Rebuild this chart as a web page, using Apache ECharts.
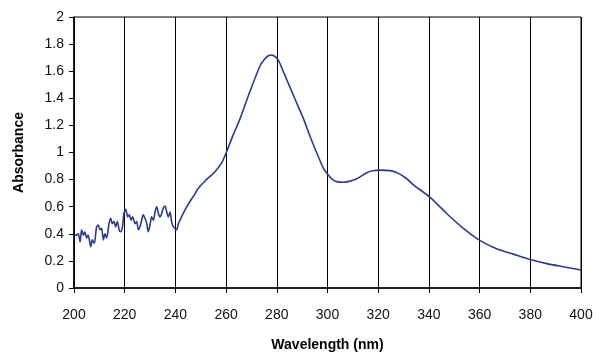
<!DOCTYPE html>
<html>
<head>
<meta charset="utf-8">
<script src="https://cdn.jsdelivr.net/npm/echarts@6/dist/echarts.min.js"></script>
<style>
  html, body { margin: 0; padding: 0; background: #fff; }
  #chart { width: 596px; height: 352px; }
</style>
</head>
<body>
<div id="chart"></div>
<script>
// wavelength (nm) and absorbance
const wavelengths = [
  200, 200.8, 201.7, 202.4, 203.0, 203.7, 204.3, 205.0, 205.6, 206.6, 207.2, 208.0,
  208.9, 209.6, 210.3, 210.9, 211.6, 212.2, 212.9, 213.8, 214.5, 215.1, 215.8, 216.4,
  217.1, 217.8, 218.4, 219.1, 219.7, 220.4, 221.2, 221.8, 222.5, 223.1, 224.1, 224.7,
  225.4, 226.0, 226.7, 227.3, 228.0, 228.7, 229.3, 230.0, 230.6, 231.3, 232.0, 232.6,
  233.3, 233.9, 234.6, 235.2, 235.9, 236.6, 237.2, 237.9, 238.5, 239.2, 239.8, 240.5,
  241.1, 241.8, 243.1, 244.5, 245.8, 247.7, 249.0, 251.7, 255.6, 258.3, 260.2, 262.8,
  264.2, 265.5, 269.4, 273.4, 275.0, 276.5, 277.6, 279.0, 280.5, 282.6, 286.5, 290.5,
  293.1, 295.7, 298.4, 300.3, 302, 303.6, 306, 308.2, 312, 315.5, 318, 320.7, 324.7,
  328, 331, 334, 340.4, 347, 353.6, 360.2, 366.7, 373.3, 380, 386.5, 393, 400
];
const absorbance = [
  0.39, 0.39, 0.40, 0.34, 0.43, 0.39, 0.415, 0.37, 0.39, 0.305, 0.355, 0.33,
  0.45, 0.465, 0.43, 0.44, 0.355, 0.40, 0.37, 0.475, 0.515, 0.475, 0.49, 0.45,
  0.49, 0.43, 0.415, 0.45, 0.55, 0.58, 0.525, 0.54, 0.50, 0.525, 0.475, 0.49,
  0.43, 0.45, 0.50, 0.54, 0.515, 0.475, 0.415, 0.465, 0.525, 0.50, 0.565, 0.60,
  0.55, 0.525, 0.55, 0.59, 0.605, 0.56, 0.525, 0.56, 0.49, 0.45, 0.44, 0.43,
  0.47, 0.50, 0.55, 0.60, 0.64, 0.695, 0.735, 0.79, 0.858, 0.925, 1.006, 1.13,
  1.19, 1.25, 1.45, 1.64, 1.685, 1.712, 1.72, 1.712, 1.685, 1.596, 1.424, 1.25,
  1.12, 1.0, 0.883, 0.834, 0.80, 0.785, 0.78, 0.785, 0.81, 0.851, 0.865, 0.87, 0.866,
  0.846, 0.81, 0.76, 0.67, 0.55, 0.44, 0.35, 0.29, 0.25, 0.21, 0.18, 0.157, 0.133
];

const X_TICKS = { min: 200, max: 400, step: 20 };
const Y_TICKS = { min: 0, max: 2, step: 0.2 };

const labelFont = {
  color: '#111',
  fontFamily: '"Liberation Sans Narrow", "Arial Narrow", "Liberation Sans", Arial, sans-serif',
  fontSize: 14,
};
const nameFont = {
  color: '#000',
  fontFamily: '"Liberation Sans Narrow", "Arial Narrow", "Liberation Sans", Arial, sans-serif',
  fontSize: 14,
  fontWeight: 'bold',
};

const chart = echarts.init(document.getElementById('chart'));
chart.setOption({
  animation: false,
  backgroundColor: '#fff',
  grid: {
    left: 74, right: 15, top: 17, bottom: 64,
    outerBoundsMode: 'none',
    containLabel: false,
    show: true,
    borderColor: '#000',
    borderWidth: 1,
  },
  xAxis: {
    type: 'value',
    min: X_TICKS.min,
    max: X_TICKS.max,
    interval: X_TICKS.step,
    name: 'Wavelength (nm)',
    nameLocation: 'middle',
    nameGap: 50,
    nameTextStyle: nameFont,
    axisLine: { lineStyle: { color: '#000', width: 1.5 } },
    axisTick: { show: true, length: 5, lineStyle: { color: '#000' } },
    axisLabel: { margin: 20, ...labelFont },
    splitLine: { show: true, lineStyle: { color: '#000', width: 1 } },
  },
  yAxis: {
    type: 'value',
    min: Y_TICKS.min,
    max: Y_TICKS.max,
    interval: Y_TICKS.step,
    name: 'Absorbance',
    nameLocation: 'middle',
    nameGap: 48,
    nameTextStyle: nameFont,
    axisLine: { show: true, lineStyle: { color: '#000', width: 1.5 } },
    axisTick: { show: true, length: 5, lineStyle: { color: '#000' } },
    axisLabel: {
      margin: 10,
      formatter: (v) => String(Math.round(v * 10) / 10),
      ...labelFont
    },
    splitLine: { show: false },
  },
  series: [
    {
      type: 'line',
      data: wavelengths.map((w, i) => [w, absorbance[i]]),
      showSymbol: false,
      smooth: 0.25,
      lineStyle: { color: '#2a3a8f', width: 1.6 },
    }
  ]
});
</script>
</body>
</html>
